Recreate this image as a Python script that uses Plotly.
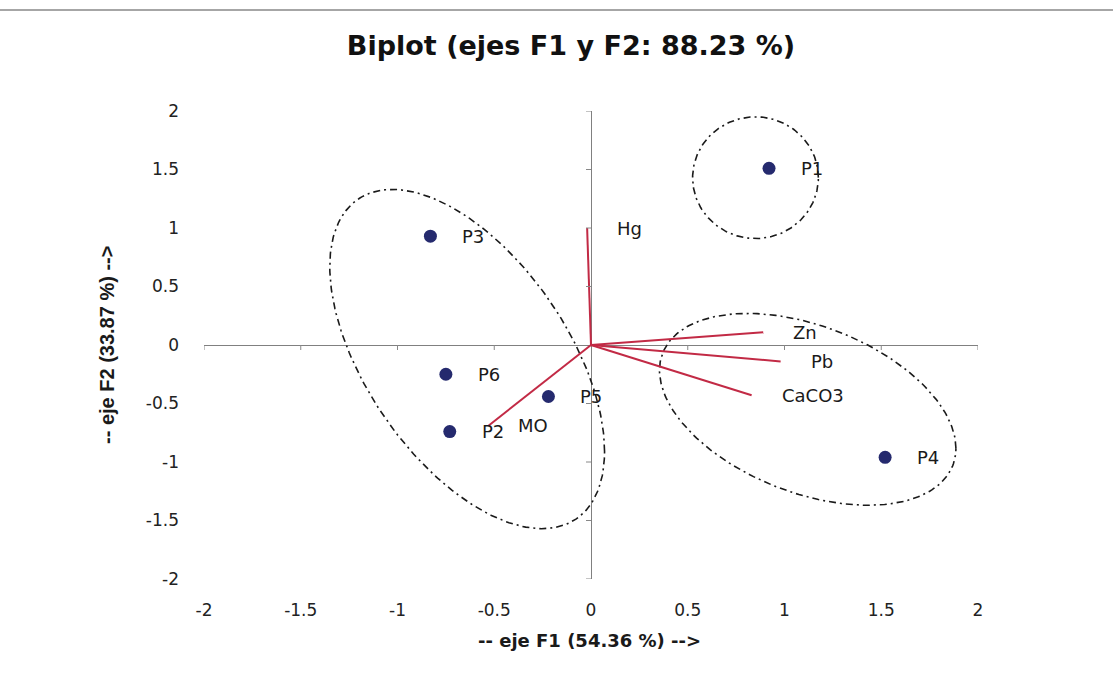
import numpy as np
import plotly.graph_objects as go

# --- observations (scores) ---
obs_names = ["P1", "P2", "P3", "P4", "P5", "P6"]
obs_x = [0.92, -0.73, -0.83, 1.52, -0.22, -0.75]
obs_y = [1.51, -0.74, 0.93, -0.96, -0.44, -0.25]

# --- variables (loadings) ---
var_names = ["Hg", "Zn", "Pb", "CaCO3", "MO"]
var_x = [-0.02, 0.89, 0.98, 0.83, -0.53]
var_y = [1.00, 0.11, -0.14, -0.43, -0.69]

# --- grouping ellipses: centre, half-width, half-height, phase (deg) ---
ell_cx = [0.85, -0.64, 1.12]
ell_cy = [1.43, -0.12, -0.55]
ell_hw = [0.325, 0.71, 0.766]
ell_hh = [0.52, 1.45, 0.82]
ell_phase = [90, 57, 66]

# --- axes ---
tick_vals = [-2, -1.5, -1, -0.5, 0, 0.5, 1, 1.5, 2]
tick_text = ["-2", "-1.5", "-1", "-0.5", "0", "0.5", "1", "1.5", "2"]

title_txt = "Biplot (ejes F1 y F2: 88.23 %)"
xtitle_txt = "-- eje F1 (54.36 %) -->"
ytitle_txt = "-- eje F2 (33.87 %) -->"

WIDE = "'DejaVu Sans', Arial, sans-serif"
NARROW = "Arial, 'Liberation Sans', sans-serif"

fig = go.Figure()

# ellipses
t = np.linspace(0, 2 * np.pi, 240)
for cx, cy, hw, hh, ph in zip(ell_cx, ell_cy, ell_hw, ell_hh, ell_phase):
    ex = cx + hw * np.cos(t)
    ey = cy - hh * np.cos(t + np.deg2rad(ph))
    fig.add_trace(go.Scatter(x=ex, y=ey, mode="lines", hoverinfo="skip",
                             line=dict(color="#1a1a1a", width=1.6, dash="7px,4px,2px,4px"),
                             showlegend=False))

# variable vectors
vx, vy = [], []
for a, b in zip(var_x, var_y):
    vx += [0, a, None]
    vy += [0, b, None]
fig.add_trace(go.Scatter(x=vx, y=vy, mode="lines", line=dict(color="#C22A45", width=2),
                         showlegend=False, hoverinfo="skip"))

# observations
fig.add_trace(go.Scatter(x=obs_x, y=obs_y, mode="markers",
                         marker=dict(color="#252A6E", size=13),
                         showlegend=False, text=obs_names))

annotations = []
for n, a, b in zip(obs_names, obs_x, obs_y):
    annotations.append(dict(x=a, y=b, xref="x", yref="y", text=n, showarrow=False,
                            xanchor="left", yanchor="middle", xshift=30,
                            font=dict(family=WIDE, size=18, color="#1a1a1a")))
for n, a, b in zip(var_names, var_x, var_y):
    annotations.append(dict(x=a, y=b, xref="x", yref="y", text=n, showarrow=False,
                            xanchor="left", yanchor="middle", xshift=28,
                            font=dict(family=WIDE, size=18, color="#1a1a1a")))

annotations.append(dict(x=0.4987, y=0, xref="paper", yref="paper", text=xtitle_txt,
                        showarrow=False, xanchor="center", yanchor="middle", yshift=-61,
                        font=dict(family=WIDE, size=18, color="#1a1a1a", weight="bold")))
annotations.append(dict(x=0, y=0.5, xref="paper", yref="paper", text=ytitle_txt,
                        showarrow=False, xanchor="center", yanchor="middle", xshift=-97,
                        textangle=-90,
                        font=dict(family=NARROW, size=20, color="#1a1a1a", weight="bold")))

shapes = []
for v in tick_vals:
    if v == 0:
        continue
    shapes.append(dict(type="line", xref="x", yref="y", ysizemode="pixel", yanchor=0,
                       x0=v, x1=v, y0=0, y1=-5, line=dict(color="#888", width=1)))
    shapes.append(dict(type="line", xref="x", yref="y", xsizemode="pixel", xanchor=0,
                       y0=v, y1=v, x0=0, x1=-5, line=dict(color="#888", width=1)))
# top frame line of the original figure
shapes.append(dict(type="line", xref="paper", yref="paper", x0=-0.27, x1=1.18,
                   y0=1 + 101 / 468, y1=1 + 101 / 468, line=dict(color="#888", width=1.4)))

fig.update_layout(
    width=1113, height=675, autosize=False,
    margin=dict(l=204, r=135, t=111, b=96),
    paper_bgcolor="white", plot_bgcolor="white",
    title=dict(text=title_txt, x=0.513, xref="container", xanchor="center",
               y=1 - 46 / 675, yref="container", yanchor="middle",
               font=dict(family=WIDE, size=27, color="#111", weight="bold")),
    xaxis=dict(range=[-2, 2], showgrid=False, zeroline=True, zerolinecolor="#808080",
               zerolinewidth=1, showline=False, tickvals=tick_vals, ticktext=tick_text,
               ticks="", ticklabelstandoff=19,
               tickfont=dict(family=WIDE, size=17, color="#222")),
    yaxis=dict(range=[-2, 2], showgrid=False, zeroline=True, zerolinecolor="#808080",
               zerolinewidth=1, showline=False, tickvals=tick_vals, ticktext=tick_text,
               ticks="", ticklabelstandoff=24,
               tickfont=dict(family=WIDE, size=17, color="#222")),
    annotations=annotations, shapes=shapes,
)

fig.write_html("out.html")
